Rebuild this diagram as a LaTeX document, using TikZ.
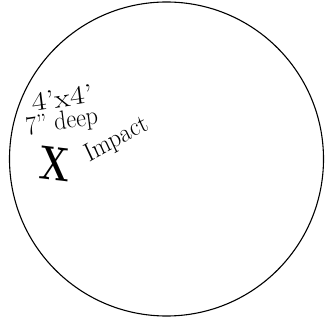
\documentclass[tikz,border=0pt]{standalone}
\usepackage{fontspec}
\begin{document}
\begin{tikzpicture}[x=1pt,y=1pt,
  hand/.style={font=\fontsize{24}{24}\selectfont, inner sep=0pt, yscale=1.1}]
\useasboundingbox (0,0) rectangle (326,321);
\draw[line width=1.1pt] (166.5,162) circle[radius=157];
\node[hand, rotate=8, xscale=1.35] (dim) at (62,223) {4'x4'};
\node[hand, rotate=8] (depth) at (62,198) {7'' deep};
\node[font=\fontsize{48}{48}\selectfont\bfseries, inner sep=0pt, xscale=0.75, rotate=-5] (mark) at (55,157) {X};
\node[hand, rotate=27] (impact) at (117,181) {Impact};
\end{tikzpicture}
\end{document}
